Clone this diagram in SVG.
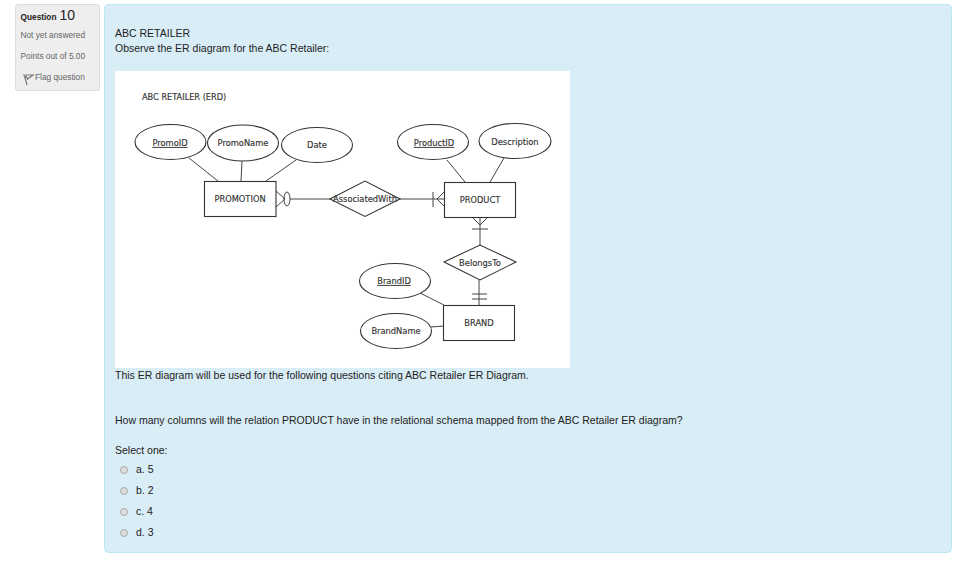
<svg xmlns="http://www.w3.org/2000/svg" width="964" height="573" viewBox="0 0 964 573">
<style>
text{font-family:"Liberation Sans",Arial,sans-serif;fill:#222}
.q{font-size:10.5px}
.s{font-size:8.300px;fill:#666}
.e{font-family:"DejaVu Sans",Verdana,sans-serif;font-size:8.300px;fill:#333;stroke:#333;stroke-width:.15;text-anchor:middle}
.n{fill:#fff;stroke:#333;stroke-width:1.1}
.c{fill:none;stroke:#444;stroke-width:1}
.r{fill:#ddd;stroke:#aaa;stroke-width:1}
</style>
<rect width="964" height="573" fill="#fff"/>
<g id="info">
<rect x="15.500" y="4.500" width="84" height="86" rx="2" fill="#eee" stroke="#ddd"/>
<text x="20.500" y="20" style="font-size:8.300px;font-weight:bold">Question</text>
<text x="59.500" y="20" style="font-size:14px">10</text>
<text x="20.500" y="38" class="s">Not yet answered</text>
<text x="20.500" y="59" class="s">Points out of 5.00</text>
<text x="35" y="80" class="s">Flag question</text>
<path d="M23 75H33L29 78L27 79.500M24.500 76L27 85M25.500 76L28 79" fill="none" stroke="#777" stroke-width="1.200"/>
</g>
<g id="content">
<rect x="104.500" y="4.500" width="847" height="548" rx="4" fill="#d9edf7" stroke="#bce8f1"/>
<text x="115" y="37" class="q">ABC RETAILER</text>
<text x="115" y="52" class="q">Observe the ER diagram for the ABC Retailer:</text>
<rect x="115" y="71" width="455" height="297" fill="#fff"/>
<text x="115" y="379" class="q">This ER diagram will be used for the following questions citing ABC Retailer ER Diagram.</text>
<text x="115" y="424" class="q">How many columns will the relation PRODUCT have in the relational schema mapped from the ABC Retailer ER diagram?</text>
<text x="115" y="454" class="q">Select one:</text>
</g>
<g id="options">
<circle class="r" cx="124" cy="470" r="3.500"/><text x="136" y="473" class="q">a. 5</text>
<circle class="r" cx="124" cy="491" r="3.500"/><text x="136" y="494" class="q">b. 2</text>
<circle class="r" cx="124" cy="512" r="3.500"/><text x="136" y="515" class="q">c. 4</text>
<circle class="r" cx="124" cy="533" r="3.500"/><text x="136" y="536" class="q">d. 3</text>
</g>
<text x="142" y="100" class="e" style="text-anchor:start;font-size:8.200px">ABC RETAILER (ERD)</text>
<g id="connectors">
<path class="c" d="M189 158L218 181M242 161L241 181M296 160L266 181M290 199H330M399 199H445"/>
<path class="c" d="M447 160L465 182M504 158L490 182"/>
<path class="c" d="M276 191L285 199L276 207M433 192V207M445 191L437 199L445 207"/>
<ellipse class="c" cx="287" cy="199" rx="3" ry="7"/>
<path class="c" d="M472 217L480 225L488 217M480 217V245M472 229H488"/>
<path class="c" d="M479 280V305M472 294H487M472 299H487"/>
<path class="c" d="M420 293L444 305M431 327L444 326"/>
</g>
<g id="PromoID"><ellipse class="n" cx="170.500" cy="142" rx="35.500" ry="17.500"/><text x="170" y="146" class="e" text-decoration="underline">PromoID</text></g>
<g id="PromoName"><ellipse class="n" cx="243" cy="143" rx="35.500" ry="18"/><text x="243" y="146" class="e">PromoName</text></g>
<g id="Date"><ellipse class="n" cx="317" cy="145" rx="35.500" ry="17.500"/><text x="317" y="148" class="e">Date</text></g>
<g id="ProductID"><ellipse class="n" cx="433" cy="142" rx="35.500" ry="17.500"/><text x="434" y="146" class="e" text-decoration="underline">ProductID</text></g>
<g id="Description"><ellipse class="n" cx="515" cy="141" rx="36" ry="17.500"/><text x="515" y="145" class="e">Description</text></g>
<g id="PROMOTION"><rect class="n" x="204.500" y="181.500" width="71.500" height="35"/><text x="240" y="202" class="e">PROMOTION</text></g>
<g id="AssociatedWith"><polygon class="n" points="330,199 365,181 400,199 365,216.500"/><text x="365" y="202" class="e">AssociatedWith</text></g>
<g id="PRODUCT"><rect class="n" x="444.500" y="182.500" width="71" height="35"/><text x="480" y="203" class="e">PRODUCT</text></g>
<g id="BelongsTo"><polygon class="n" points="444,262 480,245 516,262 480,280"/><text x="480" y="266" class="e">BelongsTo</text></g>
<g id="BrandID"><ellipse class="n" cx="395" cy="281" rx="35.500" ry="17.500"/><text x="394" y="284" class="e" text-decoration="underline">BrandID</text></g>
<g id="BrandName"><ellipse class="n" cx="396" cy="331" rx="35.500" ry="17.500"/><text x="396" y="334" class="e">BrandName</text></g>
<g id="BRAND"><rect class="n" x="443.500" y="305.500" width="71" height="35"/><text x="479" y="326" class="e">BRAND</text></g>
</svg>
